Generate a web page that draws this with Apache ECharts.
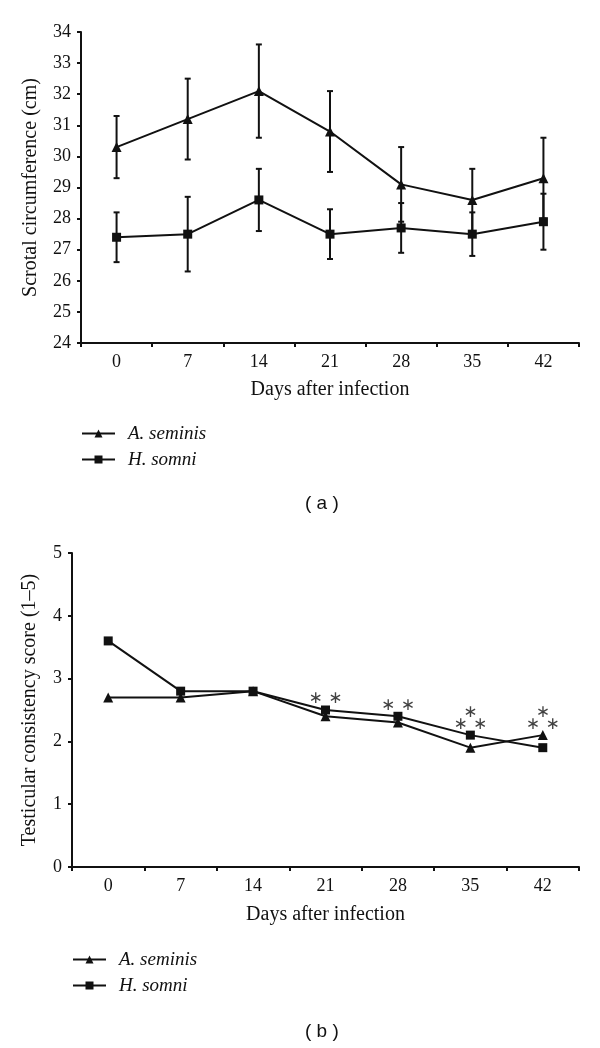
<!DOCTYPE html>
<html>
<head>
<meta charset="utf-8">
<script src="https://cdn.jsdelivr.net/npm/echarts@6/dist/echarts.min.js"></script>
<style>
  html, body { margin: 0; padding: 0; background: #fff; }
  #chart { width: 600px; height: 1048px; }
</style>
</head>
<body>
<div id="chart"></div>
<script>
// days after infection
var days = ['0', '7', '14', '21', '28', '35', '42'];

// (a) scrotal circumference, mean and error
var scrotalASeminis = [30.3, 31.2, 32.1, 30.8, 29.1, 28.6, 29.3];
var scrotalASeminisErr = [1.0, 1.3, 1.5, 1.3, 1.2, 1.0, 1.3];
var scrotalHSomni = [27.4, 27.5, 28.6, 27.5, 27.7, 27.5, 27.9];
var scrotalHSomniErr = [0.8, 1.2, 1.0, 0.8, 0.8, 0.7, 0.9];

// (b) testicular consistency score
var consistencyASeminis = [2.7, 2.7, 2.8, 2.4, 2.3, 1.9, 2.1];
var consistencyHSomni = [3.6, 2.8, 2.8, 2.5, 2.4, 2.1, 1.9];
var significance = ['', '', '', '∗ ∗', '∗ ∗', '∗\n∗ ∗', '∗\n∗ ∗'];

var serif = '"Liberation Serif", "DejaVu Serif", serif';
var ink = '#111';

function errorData(mean, err) {
  return mean.map(function (v, i) {
    return [i, +(v - err[i]).toFixed(2), +(v + err[i]).toFixed(2)];
  });
}

function renderErrorBar(params, api) {
  var x = api.value(0);
  var lo = api.coord([x, api.value(1)]);
  var hi = api.coord([x, api.value(2)]);
  var w = 3;
  var style = { stroke: ink, lineWidth: 2 };
  return {
    type: 'group',
    children: [
      { type: 'line', shape: { x1: lo[0], y1: lo[1], x2: hi[0], y2: hi[1] }, style: style },
      { type: 'line', shape: { x1: lo[0] - w, y1: lo[1], x2: lo[0] + w, y2: lo[1] }, style: style },
      { type: 'line', shape: { x1: hi[0] - w, y1: hi[1], x2: hi[0] + w, y2: hi[1] }, style: style },
    ],
  };
}

function xAxisFor(gridIndex, gap) {
  return {
    type: 'category',
    gridIndex: gridIndex,
    data: days,
    name: 'Days after infection',
    nameLocation: 'middle',
    nameGap: gap,
    nameTextStyle: { fontFamily: serif, fontSize: 20, color: ink },
    axisLine: { lineStyle: { color: ink, width: 2 } },
    axisTick: { show: true, length: 4, lineStyle: { color: ink, width: 2 } },
    axisLabel: { fontFamily: serif, fontSize: 18, color: ink, margin: 10 },
    splitLine: { show: false },
  };
}

function yAxisFor(gridIndex, name, min, max, gap) {
  return {
    type: 'value',
    gridIndex: gridIndex,
    min: min,
    max: max,
    interval: 1,
    name: name,
    nameLocation: 'middle',
    nameGap: gap,
    nameTextStyle: { fontFamily: serif, fontSize: 20, color: ink },
    axisLine: { show: true, lineStyle: { color: ink, width: 2 } },
    axisTick: { show: true, length: 4, lineStyle: { color: ink, width: 2 } },
    axisLabel: { fontFamily: serif, fontSize: 18, color: ink, margin: 10 },
    splitLine: { show: false },
  };
}

function lineSeries(name, symbol, size, idx, data) {
  return {
    name: name,
    type: 'line',
    xAxisIndex: idx,
    yAxisIndex: idx,
    data: data,
    symbol: symbol,
    symbolSize: size,
    itemStyle: { color: ink },
    lineStyle: { color: ink, width: 2 },
    z: 3,
  };
}

function legendFor(left, top) {
  return {
    orient: 'vertical',
    left: left,
    top: top,
    itemWidth: 33,
    itemHeight: 10,
    itemGap: 7,
    data: ['A. seminis', 'H. somni'],
    textStyle: { fontFamily: serif, fontStyle: 'italic', fontSize: 19, color: ink, padding: [0, 0, 0, 8] },
  };
}

var chart = echarts.init(document.getElementById('chart'));

var option = {
  animation: false,
  backgroundColor: '#fff',
  grid: [
    { left: 81, right: 21, top: 32, height: 311 },
    { left: 72, right: 21, top: 553, height: 314 },
  ],
  xAxis: [xAxisFor(0, 37), xAxisFor(1, 38)],
  yAxis: [
    yAxisFor(0, 'Scrotal circumference (cm)', 24, 34, 40),
    yAxisFor(1, 'Testicular consistency score (1–5)', 0, 5, 32),
  ],
  legend: [legendFor(76, 419), legendFor(67, 945)],
  graphic: [
    { type: 'text', left: 305, top: 494, style: { text: '( a )', font: '19px "Liberation Sans", sans-serif', fill: ink } },
    { type: 'text', left: 305, top: 1022, style: { text: '( b )', font: '19px "Liberation Sans", sans-serif', fill: ink } },
  ],
  series: [
    {
      type: 'custom',
      xAxisIndex: 0,
      yAxisIndex: 0,
      renderItem: renderErrorBar,
      encode: { x: 0, y: [1, 2] },
      data: errorData(scrotalASeminis, scrotalASeminisErr),
      z: 2,
    },
    {
      type: 'custom',
      xAxisIndex: 0,
      yAxisIndex: 0,
      renderItem: renderErrorBar,
      encode: { x: 0, y: [1, 2] },
      data: errorData(scrotalHSomni, scrotalHSomniErr),
      z: 2,
    },
    lineSeries('A. seminis', 'triangle', 10, 0, scrotalASeminis),
    lineSeries('H. somni', 'rect', 9, 0, scrotalHSomni),
    lineSeries('A. seminis', 'triangle', 10, 1, consistencyASeminis),
    lineSeries('H. somni', 'rect', 9, 1, consistencyHSomni),
    {
      // significance marks sit above the higher of the two points
      type: 'scatter',
      xAxisIndex: 1,
      yAxisIndex: 1,
      symbolSize: 10,
      itemStyle: { color: 'rgba(0,0,0,0)' },
      data: consistencyASeminis.map(function (v, i) {
        return Math.max(v, consistencyHSomni[i]);
      }),
      label: {
        show: true,
        position: 'top',
        distance: 0,
        fontFamily: '"DejaVu Sans", sans-serif',
        fontSize: 17,
        lineHeight: 12,
        color: ink,
        formatter: function (p) {
          return significance[p.dataIndex];
        },
      },
      silent: true,
      z: 4,
    },
  ],
};

chart.setOption(option);
</script>
</body>
</html>
